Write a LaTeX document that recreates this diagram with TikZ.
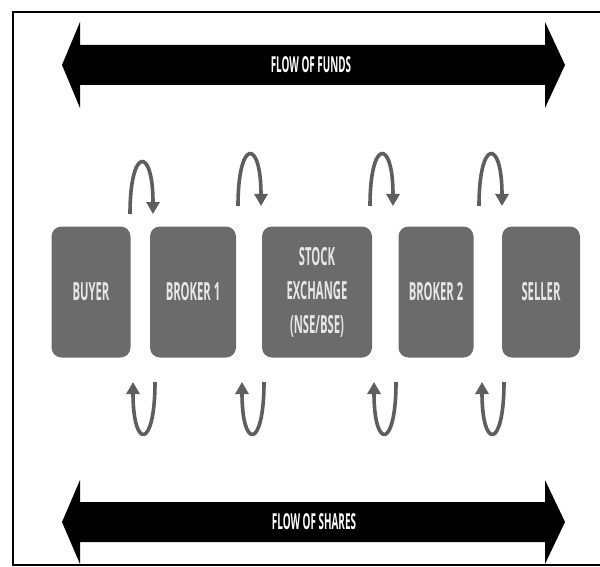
\documentclass[tikz,border=0pt]{standalone}
\usepackage{fontspec}
\setmainfont{Open Sans}[FakeStretch=0.45]
\usetikzlibrary{arrows.meta,calc}
\definecolor{boxgray}{HTML}{6B6B6B}
\definecolor{loopgray}{HTML}{5E5E5E}
\definecolor{labelwhite}{HTML}{E6E6E6}
\begin{document}
\begin{tikzpicture}[x=1pt,y=-1pt,
  party/.style={fill=boxgray, rounded corners=10pt, text=labelwhite,
    font=\fontsize{25}{28}\selectfont\bfseries, align=center, inner sep=0pt},
  flowlabel/.style={text=white, font=\fontsize{22}{24}\selectfont\bfseries, inner sep=0pt},
  loop/.style={draw=loopgray, line width=3.6pt,
    -{Triangle[width=13pt,length=12pt]}},
  bigarrow/.style={fill=black}]
\useasboundingbox (0,0) rectangle (600,567);
\fill[white] (0,0) rectangle (600,567);
% outer frame (open to the right)
\draw[line width=2.2pt] (640,12) -- (13,12) -- (13,565) -- (640,565);

% flow of funds
\fill[bigarrow] (62,65) -- (80,22) -- (80,45) -- (545,45) -- (545,22)
  -- (565,65) -- (545,108) -- (545,85) -- (80,85) -- (80,108) -- cycle;
\node[flowlabel] (funds) at (311,65) {FLOW OF FUNDS};

% flow of shares
\fill[bigarrow] (62,522) -- (80,480) -- (80,502) -- (545,502) -- (545,480)
  -- (565,522) -- (545,564) -- (545,542) -- (80,542) -- (80,564) -- cycle;
\node[flowlabel] (shares) at (314,522) {FLOW OF SHARES};

% participants
\node[party, minimum width=79pt, minimum height=131pt] (buyer) at (91,292) {BUYER};
\node[party, minimum width=86pt, minimum height=131pt] (broker1) at (193,292) {BROKER 1};
\node[party, minimum width=110pt, minimum height=131pt] (exchange) at (317,292)
  {STOCK\\[6pt]EXCHANGE\\[6pt](NSE/BSE)};
\node[party, minimum width=75pt, minimum height=131pt] (broker2) at (436,292) {BROKER 2};
\node[party, minimum width=78pt, minimum height=131pt] (seller) at (541,292) {SELLER};

% loops above the participants
\coordinate (a1s) at (130,214); \coordinate (a1e) at (153,214);
\coordinate (a2s) at (238,206); \coordinate (a2e) at (261,206);
\coordinate (a3s) at (370,206); \coordinate (a3e) at (393,206);
\coordinate (a4s) at (479,206); \coordinate (a4e) at (502,206);
\foreach \i in {1,...,4}{
  \draw[loop] (a\i s) .. controls ($(a\i s)+(0,-68)$) and ($(a\i e)+(0,-68)$) .. (a\i e);
}

% loops below the participants
\coordinate (b1s) at (155,382); \coordinate (b1e) at (133,382);
\coordinate (b2s) at (264,382); \coordinate (b2e) at (242,382);
\coordinate (b3s) at (396,382); \coordinate (b3e) at (374,382);
\coordinate (b4s) at (504,382); \coordinate (b4e) at (482,382);
\foreach \i in {1,...,4}{
  \draw[loop] (b\i s) .. controls ($(b\i s)+(0,68)$) and ($(b\i e)+(0,68)$) .. (b\i e);
}
\end{tikzpicture}
\end{document}
